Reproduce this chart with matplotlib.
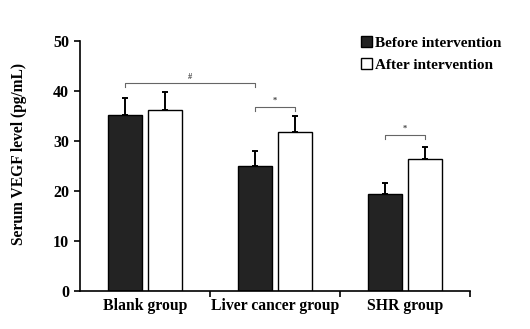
import numpy as np
import matplotlib.pyplot as plt

groups = ["Blank group", "Liver cancer group", "SHR group"]
before = [35.2, 25.0, 19.4]
before_err = [3.5, 3.1, 2.3]
after = [36.2, 31.9, 26.5]
after_err = [3.6, 3.1, 2.4]

plt.rcParams['font.family'] = ['Liberation Serif', 'DejaVu Serif']
plt.rcParams['font.weight'] = 'bold'

fig = plt.figure(figsize=(5.3, 3.29), dpi=100)
ax = fig.add_axes([0.151, 0.1155, 0.736, 0.7595])

x = np.arange(len(groups))
w = 0.26
off = 0.152

ax.bar(x - off, before, w, color='#232323', edgecolor='black', linewidth=1.0,
       yerr=[np.zeros(3), before_err], capsize=2.5,
       error_kw=dict(elinewidth=1.4, capthick=1.4), label='Before intervention', zorder=2)
ax.bar(x + off, after, w, color='white', edgecolor='black', linewidth=1.0,
       yerr=[np.zeros(3), after_err], capsize=2.5,
       error_kw=dict(elinewidth=1.4, capthick=1.4), label='After intervention', zorder=2)

# significance brackets
def bracket(x1, x2, y, txt):
    ax.plot([x1, x1, x2, x2], [y - 0.8, y, y, y - 0.8], color='#666666', lw=0.8, zorder=3)
    ax.text((x1 + x2) / 2, y + 0.4, txt, ha='center', va='bottom', fontsize=6, color='#444444')

bracket(0 - off, 1 - off, 41.6, '#')
bracket(1 - off, 1 + off, 36.9, '*')
bracket(2 - off, 2 + off, 31.3, '*')

ax.set_xlim(-0.5, 2.5)
ax.set_ylim(0, 50)
ax.set_yticks([0, 10, 20, 30, 40, 50])
ax.set_xticks(x)
ax.set_xticklabels(groups, fontsize=11.3, fontweight='bold')
ax.set_xticks([0.5, 1.5, 2.5], minor=True)
ax.tick_params(axis='x', which='major', length=0, pad=5)
ax.tick_params(axis='x', which='minor', length=4, width=1.2, direction='out')
ax.tick_params(axis='y', labelsize=11.5, length=4, width=1.2, direction='out', pad=4)
for lab in ax.get_yticklabels():
    lab.set_fontweight('bold')

ax.spines['top'].set_visible(False)
ax.spines['right'].set_visible(False)
ax.spines['left'].set_linewidth(1.2)
ax.spines['bottom'].set_linewidth(1.2)

ax.set_ylabel('Serum VEGF level (pg/mL)', fontsize=11.2, fontweight='bold')
ax.yaxis.set_label_coords(-0.135, 0.55)

leg = ax.legend(loc='upper right', bbox_to_anchor=(1.095, 1.045), frameon=False,
                prop=dict(size=11, weight='bold'), handlelength=0.7, handleheight=0.7,
                handletextpad=0.2, labelspacing=0.55, borderaxespad=0)

plt.savefig('out.png', dpi=100)
